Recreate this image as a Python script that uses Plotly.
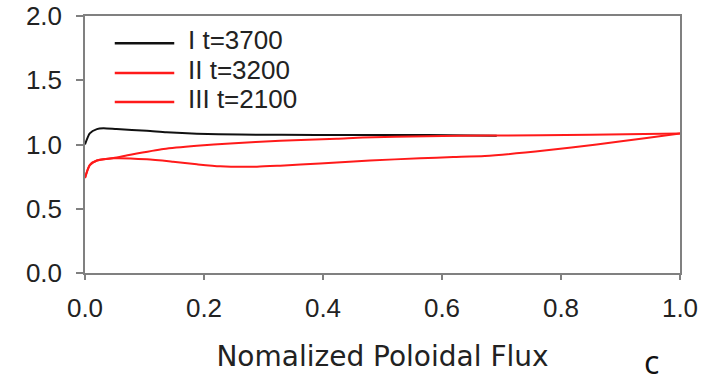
import plotly.graph_objects as go

# Series I t=3700 (black)
x_I = [0.0, 0.008, 0.02, 0.031, 0.053, 0.104, 0.137, 0.188, 0.26, 0.33, 0.445, 0.574, 0.692]
y_I = [1.0, 1.087, 1.12, 1.126, 1.12, 1.107, 1.095, 1.084, 1.077, 1.075, 1.074, 1.073, 1.068]

# Series II t=3200 (red, upper)
x_II = [0.0, 0.008, 0.02, 0.048, 0.076, 0.132, 0.188, 0.244, 0.328, 0.423, 0.467, 0.574, 0.68, 0.85, 1.0]
y_II = [0.74, 0.84, 0.875, 0.895, 0.92, 0.965, 0.99, 1.008, 1.03, 1.045, 1.055, 1.065, 1.07, 1.075, 1.085]

# Series III t=2100 (red, lower)
x_III = [0.0, 0.008, 0.02, 0.048, 0.104, 0.148, 0.188, 0.227, 0.289, 0.328, 0.395, 0.479, 0.563, 0.619, 0.672, 0.776, 0.86, 0.944, 1.0]
y_III = [0.74, 0.84, 0.875, 0.893, 0.885, 0.866, 0.846, 0.83, 0.827, 0.835, 0.852, 0.875, 0.893, 0.902, 0.91, 0.955, 1.0, 1.05, 1.085]

names = ["I t=3700", "II t=3200", "III t=2100"]
colors = ["#111111", "#ff1a1a", "#ff1a1a"]

x_ticks = [0.0, 0.2, 0.4, 0.6, 0.8, 1.0]
y_ticks = [0.0, 0.5, 1.0, 1.5, 2.0]

FONT = "Liberation Sans, Arial"
TXT = "#222222"

fig = go.Figure()
for xs, ys, nm, c in zip([x_I, x_II, x_III], [y_I, y_II, y_III], names, colors):
    fig.add_trace(go.Scatter(x=xs, y=ys, mode="lines", name=nm, showlegend=False,
                             line=dict(color=c, width=2, shape="spline", smoothing=0.6)))

# manual legend (long line samples as in the original)
leg_rows_paper = [0.894, 0.778, 0.665]
for nm, c, yp in zip(names, colors, leg_rows_paper):
    fig.add_shape(type="line", xref="paper", yref="paper", x0=0.050, x1=0.150, y0=yp, y1=yp,
                  line=dict(color=c, width=2.5))
    fig.add_annotation(text=nm, xref="paper", yref="paper", x=0.170, y=yp + 0.012,
                       xanchor="left", yanchor="middle", showarrow=False,
                       font=dict(family=FONT, size=26, color=TXT))

axis_common = dict(showgrid=False, zeroline=False, showline=True, linecolor="#808080",
                   linewidth=1.5, mirror=True, ticks="outside", tickcolor="#808080",
                   tickwidth=1.5, automargin=False,
                   tickfont=dict(family=FONT, size=26, color=TXT))

fig.update_layout(
    width=715, height=385,
    margin=dict(l=85, r=35, t=16, b=112),
    paper_bgcolor="white", plot_bgcolor="white",
    showlegend=False,
    xaxis=dict(range=[0, 1], tickvals=x_ticks, ticktext=[f"{v:.1f}" for v in x_ticks],
               ticklen=5, ticklabelstandoff=6,
               title=dict(text="Nomalized Poloidal Flux", standoff=24,
                          font=dict(family="DejaVu Sans", size=28, color=TXT)),
               **axis_common),
    yaxis=dict(range=[0, 2], tickvals=y_ticks, ticktext=[f"{v:.1f}" for v in y_ticks],
               ticklen=7, ticklabelstandoff=9, **axis_common),
)
fig.add_annotation(text="c", xref="paper", yref="paper", x=0.952, y=-0.434,
                   xanchor="center", yanchor="bottom", showarrow=False,
                   font=dict(family="Open Sans, Noto Sans", size=32, color="#111111"))

fig.write_html("out.html")
